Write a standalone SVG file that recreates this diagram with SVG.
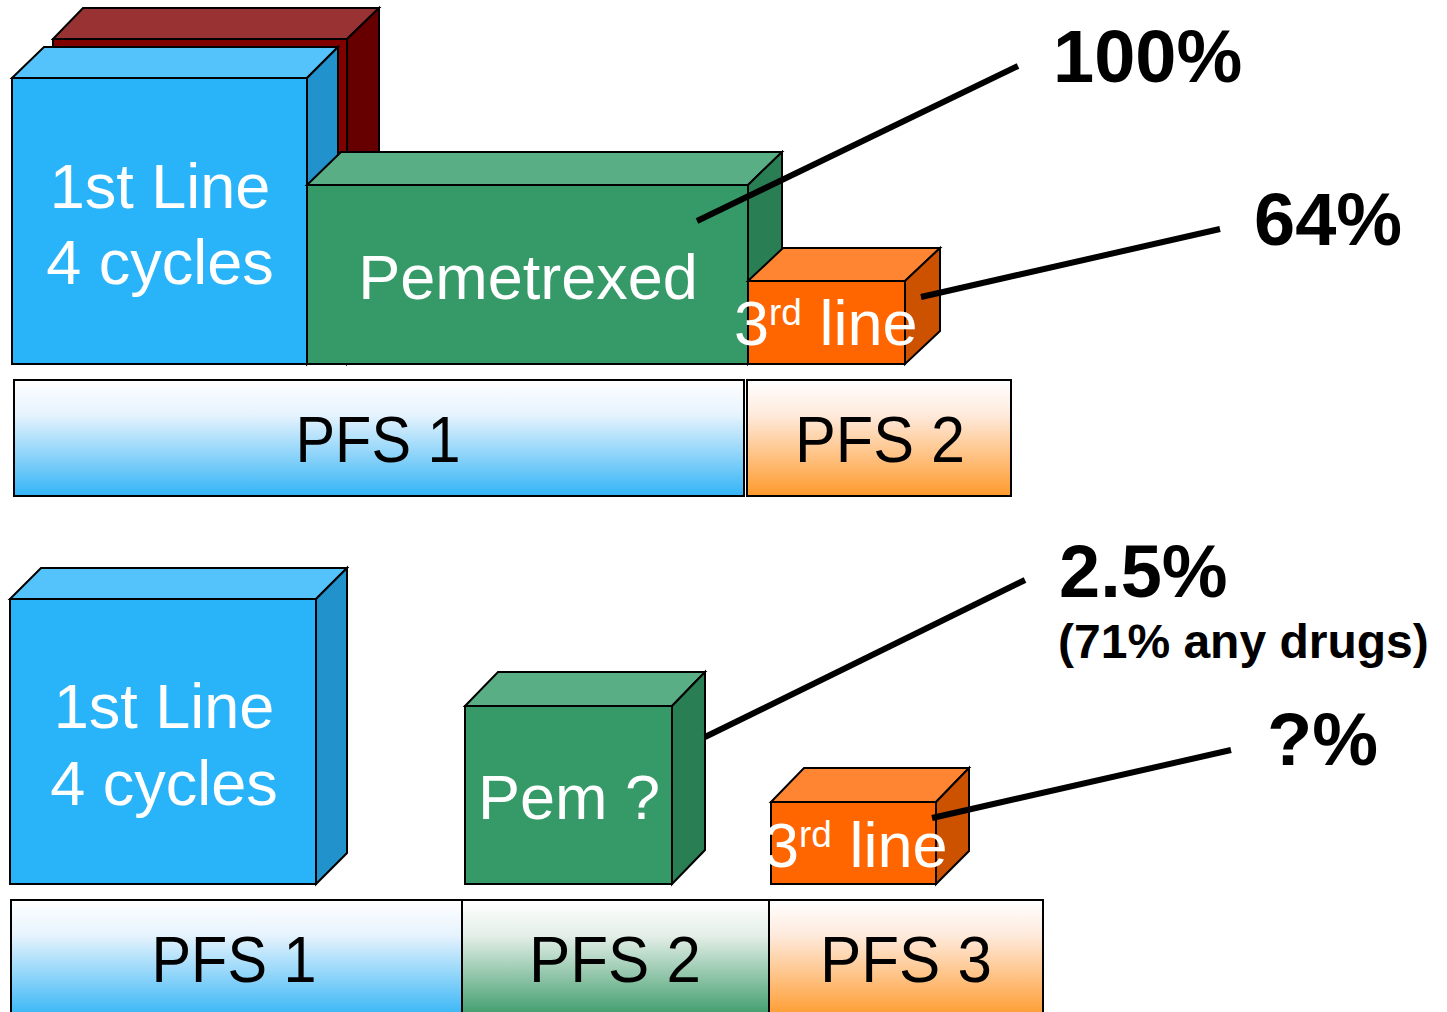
<svg xmlns="http://www.w3.org/2000/svg" width="1447" height="1012" viewBox="0 0 1447 1012">
<defs>
<style>
.ed{stroke:#000;stroke-width:2;stroke-linejoin:miter}
.bf{fill:#29b4f9}.bt{fill:#55c3fb}.bs{fill:#2192cb}
.gf{fill:#359a68}.gt{fill:#5aae85}.gs{fill:#297e54}
.of{fill:#ff6600}.ot{fill:#ff8533}.os{fill:#cc5200}
.mf{fill:#800000}.mt{fill:#993333}.ms{fill:#660000}
.wt{font-family:"Liberation Sans",Arial,sans-serif;fill:#fff;font-size:63px}
.pf{font-family:"Liberation Sans",Arial,sans-serif;fill:#000;font-size:64px;text-anchor:middle}
.lb{font-family:"Liberation Sans",Arial,sans-serif;fill:#000;font-weight:bold;font-size:74px}
.lbs{font-size:48px}
.conn{stroke:#000;stroke-width:6;fill:none}
</style>
<linearGradient id="gBlue" x1="0" y1="0" x2="0" y2="1">
<stop offset="0" stop-color="#ffffff"/><stop offset="0.3" stop-color="#e6f3fd"/><stop offset="1" stop-color="#33b4f6"/>
</linearGradient>
<linearGradient id="gOrange" x1="0" y1="0" x2="0" y2="1">
<stop offset="0" stop-color="#ffffff"/><stop offset="0.3" stop-color="#feeadc"/><stop offset="1" stop-color="#ff9a2c"/>
</linearGradient>
<linearGradient id="gGreen" x1="0" y1="0" x2="0" y2="1">
<stop offset="0" stop-color="#ffffff"/><stop offset="0.3" stop-color="#e4efe8"/><stop offset="1" stop-color="#3a9a68"/>
</linearGradient>
</defs>

<g id="top-maroon-box">
<rect class="mf ed" x="53" y="39" width="294" height="325"/>
<polygon class="mt ed" points="53,39 83,8 379,8 347,39"/>
<polygon class="ms ed" points="347,39 379,8 379,333 347,364"/>
</g>

<g id="top-first-line">
<rect class="bf ed" x="12" y="78" width="295" height="286"/>
<polygon class="bt ed" points="12,78 44,47 338,47 307,78"/>
<polygon class="bs ed" points="307,78 338,47 338,333 307,364"/>
<text class="wt" x="160" y="208" text-anchor="middle">1st Line</text>
<text class="wt" x="160" y="284" text-anchor="middle">4 cycles</text>
</g>

<g id="top-pemetrexed">
<rect class="gf ed" x="307" y="185" width="441" height="179"/>
<polygon class="gt ed" points="307,185 341,152 782,152 748,185"/>
<polygon class="gs ed" points="748,185 782,152 782,331 748,364"/>
<text class="wt" x="528" y="299" text-anchor="middle">Pemetrexed</text>
</g>

<g id="top-third-line">
<rect class="of ed" x="748" y="281" width="157" height="83"/>
<polygon class="ot ed" points="748,281 783,248 940,248 905,281"/>
<polygon class="os ed" points="905,281 940,248 940,331 905,364"/>
<text class="wt" x="734" y="345">3<tspan font-size="37" dy="-20">rd</tspan><tspan dy="20"> line</tspan></text>
</g>

<g id="top-pfs1">
<rect x="14" y="380" width="730" height="116" fill="url(#gBlue)" class="ed"/>
<text class="pf" x="378" y="462" textLength="165" lengthAdjust="spacingAndGlyphs">PFS 1</text>
</g>
<g id="top-pfs2">
<rect x="747" y="380" width="264" height="116" fill="url(#gOrange)" class="ed"/>
<text class="pf" x="880" y="462" textLength="170" lengthAdjust="spacingAndGlyphs">PFS 2</text>
</g>

<g id="bottom-first-line">
<rect class="bf ed" x="10" y="599" width="306" height="285"/>
<polygon class="bt ed" points="10,599 41,568 347,568 316,599"/>
<polygon class="bs ed" points="316,599 347,568 347,853 316,884"/>
<text class="wt" x="164" y="728" text-anchor="middle">1st Line</text>
<text class="wt" x="164" y="805" text-anchor="middle">4 cycles</text>
</g>

<g id="bottom-pem">
<rect class="gf ed" x="465" y="706" width="207" height="178"/>
<polygon class="gt ed" points="465,706 498,672 705,672 672,706"/>
<polygon class="gs ed" points="672,706 705,672 705,850 672,884"/>
<text class="wt" x="478" y="819">Pem ?</text>
</g>

<g id="bottom-third-line">
<rect class="of ed" x="771" y="802" width="165" height="82"/>
<polygon class="ot ed" points="771,802 804,768 969,768 936,802"/>
<polygon class="os ed" points="936,802 969,768 969,851 936,884"/>
<text class="wt" x="764" y="867">3<tspan font-size="37" dy="-20">rd</tspan><tspan dy="20"> line</tspan></text>
</g>

<g id="bottom-pfs1">
<rect x="11" y="900" width="451" height="118" fill="url(#gBlue)" class="ed"/>
<text class="pf" x="234" y="982" textLength="165" lengthAdjust="spacingAndGlyphs">PFS 1</text>
</g>
<g id="bottom-pfs2">
<rect x="462" y="900" width="307" height="118" fill="url(#gGreen)" class="ed"/>
<text class="pf" x="615" y="982" textLength="172" lengthAdjust="spacingAndGlyphs">PFS 2</text>
</g>
<g id="bottom-pfs3">
<rect x="769" y="900" width="274" height="118" fill="url(#gOrange)" class="ed"/>
<text class="pf" x="906" y="982" textLength="172" lengthAdjust="spacingAndGlyphs">PFS 3</text>
</g>

<g id="connectors">
<line class="conn" x1="697" y1="221" x2="1018" y2="66"/>
<line class="conn" x1="921" y1="297" x2="1220" y2="229"/>
<line class="conn" x1="705" y1="737" x2="1025" y2="580"/>
<line class="conn" x1="932" y1="818" x2="1231" y2="750"/>
</g>

<g id="labels">
<text class="lb" x="1053" y="82">100%</text>
<text class="lb" x="1254" y="245">64%</text>
<text class="lb" x="1059" y="597">2.5%</text>
<text class="lb lbs" x="1058" y="658">(71% any drugs)</text>
<text class="lb" x="1267" y="765">?%</text>
</g>
</svg>
